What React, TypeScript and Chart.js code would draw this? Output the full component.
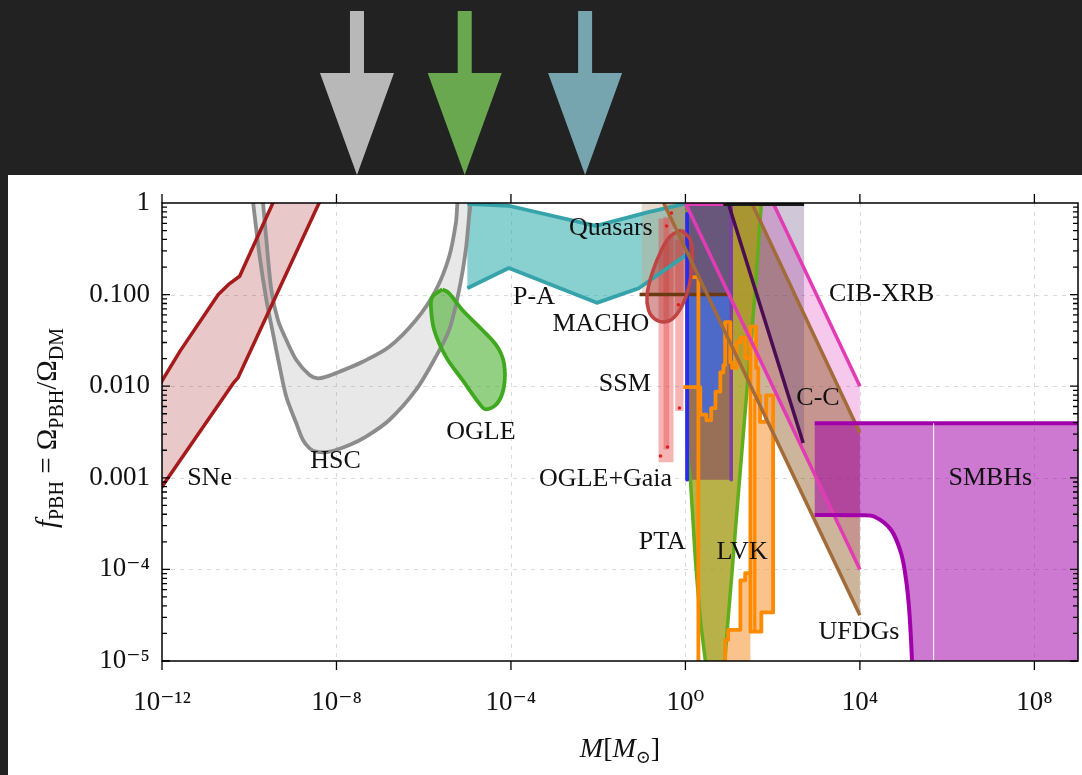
import React, { useEffect, useRef } from 'react';
import { Chart, registerables } from 'chart.js';

Chart.register(...registerables);

type P = [number, number]; // [log10 M, log10 f]

// ---------- axes ----------
const xTickExponents = [-12, -8, -4, 0, 4, 8];
const xTickLabels = ['10⁻¹²', '10⁻⁸', '10⁻⁴', '10⁰', '10⁴', '10⁸'];
const yTickExponents = [-5, -4, -3, -2, -1, 0];
const yTickLabels = ['10⁻⁵', '10⁻⁴', '0.001', '0.010', '0.100', '1'];
const gridXExponents = [-8, -4, 0, 4, 8];
const gridYExponents = [-4, -3, -2, -1];
const xRange = [-12, 9];
const yRange = [-5, 0];

// ---------- arrows above the plot ----------
const arrowMassExponents = [-7.53, -5.06, -2.3];
const arrowColors = ['#b8b8b8', '#6aa84f', '#76a5af'];

// ---------- constraint regions ----------
const sneUpper: P[] = [[-12.05, -1.98], [-11.59, -1.62], [-10.71, -1.0], [-10.45, -0.88], [-10.22, -0.8], [-9.43, 0.03]];
const sneLower: P[] = [[-12.05, -3.13], [-10.37, -1.97], [-10.26, -1.91], [-8.37, 0.03]];

const hscOuter: P[] = [[-9.913, 0.01], [-9.76, -0.586], [-9.607, -1.059], [-9.456, -1.423], [-9.303, -1.787], [-9.15, -2.115], [-8.921, -2.405], [-8.77, -2.587], [-8.617, -2.678], [-8.464, -2.715], [-8.16, -2.715], [-7.703, -2.642], [-7.321, -2.551], [-6.789, -2.369], [-6.178, -2.041], [-5.721, -1.678], [-5.417, -1.386], [-5.189, -0.95], [-5.035, -0.513], [-4.96, -0.15], [-4.921, 0.01]];
const hscInner: P[] = [[-9.685, 0.01], [-9.607, -0.404], [-9.493, -0.95], [-9.342, -1.277], [-9.15, -1.496], [-8.921, -1.714], [-8.617, -1.878], [-8.427, -1.914], [-8.235, -1.896], [-7.931, -1.842], [-7.399, -1.733], [-6.789, -1.569], [-6.178, -1.277], [-5.721, -0.95], [-5.417, -0.586], [-5.264, -0.222], [-5.227, 0.01]];

const ogleBlob: P[] = [[-5.57, -0.942], [-5.799, -1.023], [-5.835, -1.131], [-5.76, -1.386], [-5.493, -1.677], [-5.113, -1.932], [-4.731, -2.186], [-4.578, -2.252], [-4.313, -2.186], [-4.16, -2.005], [-4.16, -1.75], [-4.313, -1.569], [-4.656, -1.386], [-5.113, -1.168], [-5.417, -0.986], [-5.57, -0.942]];

const quasarTop: P[] = [[-5.0, -0.01], [-4.05, -0.03], [-2.05, -0.25], [-0.85, -0.1], [-0.02, -0.01], [0.1, 0.0]];
const quasarBottom: P[] = [[-5.0, -0.93], [-4.05, -0.71], [-2.03, -1.09], [-1.07, -0.93], [-0.02, -0.58], [0.1, -0.55]];

const machoLoop: P[] = [[-0.091, -0.295], [-0.343, -0.36], [-0.549, -0.513], [-0.754, -0.753], [-0.88, -1.004], [-0.846, -1.168], [-0.709, -1.266], [-0.48, -1.299], [-0.274, -1.255], [-0.069, -1.114], [0.091, -0.895], [0.16, -0.622], [0.114, -0.404], [-0.091, -0.295]];

// SSM bars: [lxLeft, lxRight, lyBottom, lyTop]
const ssmBars: number[][] = [[-0.617, -0.274, -2.83, -0.17], [-0.503, -0.373, -2.69, -0.15], [-0.235, -0.046, -2.27, -0.4]];
const ssmDots: P[] = [[-0.571, -2.762], [-0.411, -2.664], [-0.137, -2.238], [-0.434, -0.251], [-0.32, -0.109], [-0.16, -1.11]];

const erosBox: number[] = [-1.0, 0.0, -1.0, 0.05];
const brownLevel: P[] = [[-1.05, -1.0], [1.05, -1.0]];

const dynBox: number[] = [0.0, 1.05, -3.02, 0.05];
const dynUpperBox: number[] = [0.0, 1.05, -1.0, 0.05];
const gaiaEdge: P[] = [[0.04, -0.12], [0.04, -3.02]];
const dynEdge: P[] = [[1.05, 0.0], [1.05, -3.02]];

const lvkSteps: P[] = [[-0.05, -2.01], [0.34, -2.01], [0.34, -2.31], [0.48, -2.31], [0.48, -2.37], [0.59, -2.37], [0.59, -2.24], [0.69, -2.24], [0.69, -2.06], [0.8, -2.06], [0.8, -1.85], [0.87, -1.85], [0.87, -1.77], [0.91, -1.77], [0.91, -1.3], [1.03, -1.3], [1.03, -1.74], [1.07, -1.74], [1.07, -1.8], [1.17, -1.8], [1.17, -1.52], [1.26, -1.52], [1.26, -1.47], [1.37, -1.47], [1.37, -1.69], [1.49, -1.69]];
const gaiaBlue: P[] = [[0.0, -1.0], [1.05, -1.0], [1.05, -1.74], [1.03, -1.74], [1.03, -1.3], [0.91, -1.3], [0.91, -1.77], [0.87, -1.77], [0.87, -1.85], [0.8, -1.85], [0.8, -2.06], [0.69, -2.06], [0.69, -2.24], [0.59, -2.24], [0.59, -2.37], [0.48, -2.37], [0.48, -2.31], [0.34, -2.31], [0.34, -2.01], [0.0, -2.01]];
const lvkLeft: P[] = [[0.137, -0.81], [0.297, -0.81], [0.297, -5.1]];
const lvkTall: P[] = [[1.49, -1.69], [1.49, -1.35], [1.62, -1.35], [1.62, -1.8], [1.67, -1.8], [1.67, -2.1], [1.71, -2.1], [1.71, -2.39], [1.85, -2.39], [1.85, -2.1], [2.01, -2.1], [2.01, -4.47], [1.74, -4.47], [1.74, -4.68], [1.49, -4.68], [1.49, -1.69]];
const lvkLow: P[] = [[1.49, -4.04], [1.37, -4.04], [1.37, -4.12], [1.26, -4.12], [1.26, -4.66], [0.98, -4.66], [0.98, -4.77], [0.91, -4.77], [0.91, -5.1]];
const lvkInner: P[] = [[1.59, -2.15], [1.59, -4.68]];

const ptaLeft: P[] = [[0.046, 0.02], [0.046, -2.59], [0.07, -2.85], [0.114, -3.02], [0.229, -3.9], [0.343, -4.55], [0.457, -5.0], [0.48, -5.1]];
const ptaRight: P[] = [[1.744, 0.02], [1.593, -1.0], [1.401, -2.1], [1.211, -3.19], [1.058, -4.09], [0.944, -4.74], [0.907, -5.0], [0.9, -5.1]];

const cibLower: P[] = [[0.0, 0.0], [4.0, -4.0]];
const cibUpper: P[] = [[2.01, 0.0], [4.0, -2.0]];
const ufdgLower: P[] = [[-0.5, 0.0], [4.0, -4.5]];
const ufdgUpper: P[] = [[1.52, 0.0], [4.0, -2.51]];
const ccLine: P[] = [[0.98, 0.0], [2.7, -2.62]];
const ccRegion: P[] = [[0.98, 0.05], [2.72, 0.05], [2.72, -2.62], [2.7, -2.62]];
const topMagenta: P[] = [[0.0, -0.012], [0.87, -0.012]];
const topBlack: P[] = [[0.87, -0.012], [2.72, -0.012]];

const smbhTop: P[] = [[2.964, -2.405], [9.2, -2.405]];
const smbhBottom: P[] = [[2.964, -3.406], [4.0, -3.41], [4.336, -3.425], [4.716, -3.57], [4.944, -3.824], [5.059, -4.116], [5.136, -4.479], [5.196, -5.02], [5.2, -5.2]];
const smbhSeam: P[] = [[5.69, -2.405], [5.69, -5.1]];

const regionLabels: [string, number, number][] = [
  ['SNe', -10.91, -3.0], ['HSC', -8.02, -2.82], ['OGLE', -4.69, -2.5], ['P-A', -3.47, -1.03],
  ['Quasars', -1.71, -0.28], ['MACHO', -1.94, -1.32], ['SSM', -1.39, -1.98], ['OGLE+Gaia', -1.83, -3.02],
  ['PTA', -0.53, -3.7], ['LVK', 1.3, -3.81], ['CIB-XRB', 4.5, -1.0], ['C-C', 3.04, -2.13],
  ['UFDGs', 3.98, -4.68], ['SMBHs', 6.99, -3.0],
];

// ---------- helpers ----------
const toXY = (a: P[]) => a.map(([lx, ly]) => ({ x: Math.pow(10, lx), y: Math.pow(10, ly) }));
const box = (b: number[]): P[] => [[b[0], b[3]], [b[1], b[3]], [b[1], b[2]], [b[0], b[2]]];
const rev = (a: P[]) => a.slice().reverse();

function buildDatasets() {
  const ds: any[] = [];
  let layer = 0;
  const area = (pts: P[], color: string, tension = 0) => {
    ds.push({ data: toXY(pts), showLine: true, fill: 'shape', backgroundColor: color, borderColor: 'rgba(0,0,0,0)', borderWidth: 0, pointRadius: 0, tension, order: -(layer++) });
  };
  const line = (pts: P[], color: string, width = 3.5, tension = 0) => {
    ds.push({ data: toXY(pts), showLine: true, fill: false, borderColor: color, borderWidth: width, pointRadius: 0, tension, borderJoinStyle: 'round', order: -(layer++) });
  };
  const dots = (pts: P[], color: string) => {
    ds.push({ data: toXY(pts), showLine: false, pointRadius: 1.8, pointBorderWidth: 0, pointBackgroundColor: color, order: -(layer++) });
  };

  // left-side regions
  area([...hscOuter, ...rev(hscInner)], 'rgba(150,150,150,0.22)', 0.3);
  area([...sneUpper, ...rev(sneLower)], 'rgba(172,58,58,0.28)');
  area(ogleBlob, 'rgba(60,170,30,0.55)', 0.35);
  area([...quasarTop, ...rev(quasarBottom)], 'rgba(40,170,170,0.55)');

  // diagonal bands / large-mass regions
  area([...cibUpper, [4.0, -4.0], [0.0, 0.0]], 'rgba(215,35,179,0.25)');
  area([...ufdgUpper, [4.0, -4.5], [-0.5, 0.0]], 'rgba(133,79,17,0.42)');
  area(ccRegion, 'rgba(98,72,125,0.3)');
  area([...smbhTop, [9.2, -5.2], ...rev(smbhBottom)], 'rgba(160,0,168,0.53)', 0);

  // central cluster
  area(box(erosBox), 'rgba(200,165,135,0.4)');
  area([...ptaLeft, ...rev(ptaRight)], 'rgba(166,156,26,0.8)', 0.15);
  area(box(dynBox), 'rgba(150,105,88,0.93)');
  area(box(dynUpperBox), 'rgba(100,84,126,0.93)');
  area(gaiaBlue, 'rgba(70,105,210,0.92)');
  ssmBars.forEach((b) => area(box(b), 'rgba(230,70,70,0.4)'));
  area(machoLoop, 'rgba(180,55,55,0.5)', 0.4);
  area(lvkTall, 'rgba(246,170,90,0.7)');
  area([...lvkLow, [1.49, -5.1]], 'rgba(246,170,90,0.7)');

  // outlines
  line(hscOuter, '#8c8c8c', 3.8, 0.3);
  line(hscInner, '#8c8c8c', 3.8, 0.3);
  line(sneUpper, '#a51b1b');
  line(sneLower, '#a51b1b');
  line(ogleBlob, '#3fa81f', 3.8, 0.35);
  line(quasarTop, '#36a3aa', 3.8);
  line(quasarBottom, '#36a3aa', 3.8);
  line(brownLevel, '#6b3a12');
  line(ptaLeft, '#62ad1c', 3.5, 0.15);
  line(ptaRight, '#62ad1c', 3.5, 0.15);
  line(gaiaEdge, '#2a2af0', 3.8);
  line(dynEdge, '#7b3fa6', 3.5);
  line(lvkLeft, '#ff8a00', 3.8);
  line(lvkSteps, '#ff8a00', 3.8);
  line(lvkTall, '#ff8a00', 3.8);
  line(lvkLow, '#ff8a00', 3.8);
  line(lvkInner, '#ff8a00', 3.2);
  line(machoLoop, '#c04444', 3.5, 0.4);
  line(ufdgLower, '#a36b3a');
  line(ufdgUpper, '#a36b3a');
  line(cibLower, '#e23cb4');
  line(cibUpper, '#e23cb4');
  line(ccLine, '#4a0c52');
  line(topMagenta, '#e23cb4', 4);
  line(topBlack, '#1a1a1a', 4);
  line(smbhTop, '#a100ab', 4);
  line(smbhBottom, '#a100ab', 4, 0.35);
  line(smbhSeam, 'rgba(255,255,255,0.55)', 1);
  dots(ssmDots, '#e01e1e');
  return ds;
}

const SERIF = '"Liberation Serif", "DejaVu Serif", serif';

function drawRich(ctx: CanvasRenderingContext2D, parts: { t: string; f: string; dy: number }[], cx: number) {
  let total = 0;
  parts.forEach((p) => { ctx.font = p.f; total += ctx.measureText(p.t).width; });
  let x = cx - total / 2;
  parts.forEach((p) => { ctx.font = p.f; ctx.fillText(p.t, x, p.dy); x += ctx.measureText(p.t).width; });
}

const deco = {
  id: 'deco',
  beforeDraw(chart: any) {
    const { ctx, width, height } = chart;
    ctx.save();
    ctx.fillStyle = '#222222';
    ctx.fillRect(0, 0, width, height);
    ctx.fillStyle = '#ffffff';
    ctx.fillRect(8, 175, width - 8, height - 175);
    const xs = chart.scales.x;
    arrowMassExponents.forEach((e, i) => {
      const cx = xs.getPixelForValue(Math.pow(10, e));
      ctx.fillStyle = arrowColors[i];
      ctx.beginPath();
      ctx.moveTo(cx - 7, 11); ctx.lineTo(cx + 7, 11); ctx.lineTo(cx + 7, 73); ctx.lineTo(cx + 37, 73);
      ctx.lineTo(cx, 175); ctx.lineTo(cx - 37, 73); ctx.lineTo(cx - 7, 73); ctx.closePath();
      ctx.fill();
    });
    ctx.restore();
  },
  beforeDatasetsDraw(chart: any) {
    const { ctx, chartArea: a } = chart;
    const xs = chart.scales.x, ys = chart.scales.y;
    ctx.save();
    ctx.strokeStyle = '#d9d9d9';
    ctx.lineWidth = 1;
    ctx.setLineDash([4, 5]);
    gridXExponents.forEach((e) => {
      const x = Math.round(xs.getPixelForValue(Math.pow(10, e))) + 0.5;
      ctx.beginPath(); ctx.moveTo(x, a.top); ctx.lineTo(x, a.bottom); ctx.stroke();
    });
    gridYExponents.forEach((e) => {
      const y = Math.round(ys.getPixelForValue(Math.pow(10, e))) + 0.5;
      ctx.beginPath(); ctx.moveTo(a.left, y); ctx.lineTo(a.right, y); ctx.stroke();
    });
    ctx.restore();
  },
  afterDatasetsDraw(chart: any) {
    const { ctx, chartArea: a } = chart;
    const xs = chart.scales.x, ys = chart.scales.y;
    ctx.save();
    // region labels
    ctx.fillStyle = '#111111';
    ctx.font = `26px ${SERIF}`;
    ctx.textAlign = 'center';
    ctx.textBaseline = 'middle';
    regionLabels.forEach(([t, lx, ly]) => {
      ctx.fillText(t, xs.getPixelForValue(Math.pow(10, lx)), ys.getPixelForValue(Math.pow(10, ly)));
    });
    // frame
    ctx.strokeStyle = '#000000';
    ctx.lineWidth = 1.5;
    ctx.strokeRect(a.left, a.top, a.right - a.left, a.bottom - a.top);
    // ticks
    ctx.lineWidth = 1.3;
    ctx.beginPath();
    xTickExponents.forEach((e) => {
      const x = xs.getPixelForValue(Math.pow(10, e));
      ctx.moveTo(x, a.bottom); ctx.lineTo(x, a.bottom + 9);
      ctx.moveTo(x, a.top); ctx.lineTo(x, a.top - 9);
    });
    for (let d = yRange[0]; d < yRange[1]; d++) {
      for (let m = 1; m < 10; m++) {
        const y = ys.getPixelForValue(m * Math.pow(10, d));
        const len = m === 1 ? 8 : 5;
        ctx.moveTo(a.left, y); ctx.lineTo(a.left + len, y);
        ctx.moveTo(a.right, y); ctx.lineTo(a.right - len, y);
      }
    }
    ctx.stroke();
    // axis titles
    ctx.fillStyle = '#111111';
    ctx.textAlign = 'left';
    ctx.textBaseline = 'alphabetic';
    ctx.save();
    ctx.translate(56, 428);
    ctx.rotate(-Math.PI / 2);
    drawRich(ctx, [
      { t: 'f', f: `italic 29px ${SERIF}`, dy: 0 },
      { t: 'PBH', f: `20px ${SERIF}`, dy: 7 },
      { t: ' = Ω', f: `29px ${SERIF}`, dy: 0 },
      { t: 'PBH', f: `20px ${SERIF}`, dy: 7 },
      { t: '/Ω', f: `29px ${SERIF}`, dy: 0 },
      { t: 'DM', f: `20px ${SERIF}`, dy: 7 },
    ], 0);
    ctx.restore();
    ctx.save();
    ctx.translate((a.left + a.right) / 2, 757);
    drawRich(ctx, [
      { t: 'M', f: `italic 28px ${SERIF}`, dy: 0 },
      { t: '[', f: `28px ${SERIF}`, dy: 0 },
      { t: 'M', f: `italic 28px ${SERIF}`, dy: 0 },
      { t: '⊙', f: `18px ${SERIF}`, dy: 6 },
      { t: ']', f: `28px ${SERIF}`, dy: 0 },
    ], 0);
    ctx.restore();
    ctx.restore();
  },
};

export default function App() {
  const ref = useRef<HTMLCanvasElement>(null);
  useEffect(() => {
    const canvas = ref.current;
    if (!canvas) return;
    const labelFor = (v: number, exps: number[], labels: string[]) => {
      const e = Math.round(Math.log10(v));
      const i = exps.indexOf(e);
      return i >= 0 ? labels[i] : '';
    };
    const chart = new Chart(canvas, {
      type: 'scatter',
      data: { datasets: buildDatasets() },
      options: {
        responsive: false,
        animation: false,
        events: [],
        layout: { padding: { left: 0, right: 1, top: 203, bottom: 0 } },
        plugins: { legend: { display: false }, tooltip: { enabled: false } },
        scales: {
          x: {
            type: 'logarithmic',
            min: Math.pow(10, xRange[0]),
            max: Math.pow(10, xRange[1]),
            grid: { display: false, drawTicks: false },
            border: { display: false },
            afterBuildTicks: (s: any) => { s.ticks = xTickExponents.map((e) => ({ value: Math.pow(10, e) })); },
            afterFit: (s: any) => { s.height = 114; },
            ticks: {
              autoSkip: false, maxRotation: 0, padding: 26, color: '#111111',
              font: { family: SERIF, size: 27 },
              callback: (v: any) => labelFor(Number(v), xTickExponents, xTickLabels),
            },
          },
          y: {
            type: 'logarithmic',
            min: Math.pow(10, yRange[0]),
            max: Math.pow(10, yRange[1]),
            grid: { display: false, drawTicks: false },
            border: { display: false },
            afterBuildTicks: (s: any) => { s.ticks = yTickExponents.map((e) => ({ value: Math.pow(10, e) })); },
            afterFit: (s: any) => { s.width = 162; },
            ticks: {
              autoSkip: false, padding: 12, color: '#111111',
              font: { family: SERIF, size: 27 },
              callback: (v: any) => labelFor(Number(v), yTickExponents, yTickLabels),
            },
          },
        },
      },
      plugins: [deco],
    } as any);
    return () => chart.destroy();
  }, []);
  return (
    <div style={{ position: 'fixed', left: 0, top: 0, width: 1082, height: 775, background: '#222222' }}>
      <canvas ref={ref} width={1082} height={775} style={{ display: 'block', width: 1082, height: 775 }} />
    </div>
  );
}
